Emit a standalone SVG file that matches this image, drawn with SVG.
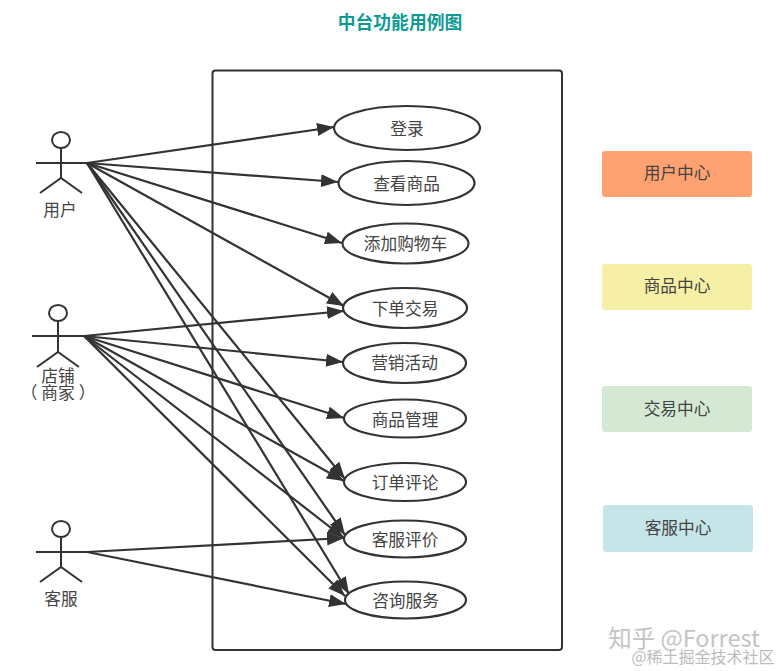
<svg xmlns="http://www.w3.org/2000/svg" width="781" height="671" viewBox="0 0 781 671">
<style>
text{font-family:"Noto Sans CJK SC","Liberation Sans",sans-serif;font-size:16.700px;fill:#444;text-anchor:middle;text-spacing-trim:space-all}
.title{font-size:17.800px;font-weight:700;fill:#0e9a94}
.uc{fill:#fff;stroke:#333;stroke-width:2.200}
.a{fill:none;stroke:#333;stroke-width:2}
.c{stroke:#333;stroke-width:2.200;fill:none;marker-end:url(#arr)}
.wm{fill:#c4c4c4;font-size:23.500px}
.wm2{fill:#bcbcbc;font-size:16px}
</style>
<defs>
<marker id="arr" markerUnits="userSpaceOnUse" markerWidth="18" markerHeight="14" refX="17" refY="6.500" orient="auto"><path d="M0 0L17 6.500L0 13Z" fill="#333"/></marker>
</defs>
<rect width="781" height="671" fill="#fff"/>
<text class="title" x="400" y="29">中台功能用例图</text>
<g id="system"><rect x="212.500" y="70.500" width="349.500" height="579.500" rx="3" fill="#fff" stroke="#333" stroke-width="2"/></g>
<g id="uc1"><ellipse class="uc" cx="407" cy="128" rx="73" ry="22"/><text x="407" y="135">登录</text></g>
<g id="uc2"><ellipse class="uc" cx="406.500" cy="183" rx="68" ry="22"/><text x="406.500" y="190">查看商品</text></g>
<g id="uc3"><ellipse class="uc" cx="405.500" cy="243.500" rx="63" ry="20"/><text x="405.500" y="250">添加购物车</text></g>
<g id="uc4"><ellipse class="uc" cx="405" cy="308" rx="62" ry="20"/><text x="405" y="315">下单交易</text></g>
<g id="uc5"><ellipse class="uc" cx="404.500" cy="363" rx="61.500" ry="20"/><text x="404.500" y="369">营销活动</text></g>
<g id="uc6"><ellipse class="uc" cx="405" cy="418.500" rx="61" ry="19"/><text x="405" y="426">商品管理</text></g>
<g id="uc7"><ellipse class="uc" cx="405" cy="482" rx="61" ry="19"/><text x="405" y="489">订单评论</text></g>
<g id="uc8"><ellipse class="uc" cx="405" cy="539" rx="61" ry="18.500"/><text x="405" y="546">客服评价</text></g>
<g id="uc9"><ellipse class="uc" cx="405.500" cy="600" rx="60.500" ry="18.500"/><text x="405.500" y="607">咨询服务</text></g>
<g id="connectors">
<path class="c" d="M87 163L334 127"/>
<path class="c" d="M87 163L338 182"/>
<path class="c" d="M87 163L342 243"/>
<path class="c" d="M87 163L344 306"/>
<path class="c" d="M87 163L345 479"/>
<path class="c" d="M87 163L345 535"/>
<path class="c" d="M87 163L349 594"/>
<path class="c" d="M84 336L344 311"/>
<path class="c" d="M84 336L343 362"/>
<path class="c" d="M84 336L344 418"/>
<path class="c" d="M84 336L344 481"/>
<path class="c" d="M84 336L344 538"/>
<path class="c" d="M84 336L345 596"/>
<path class="c" d="M87 552L344 538"/>
<path class="c" d="M87 552L346 604"/>
</g>
<g id="actor1"><ellipse class="a" cx="61" cy="140" rx="9" ry="8"/><path class="a" d="M36 163H87M61 148V178M40 193L61 178L82 193"/><text x="60" y="216">用户</text></g>
<g id="actor2"><ellipse class="a" cx="58" cy="313" rx="9" ry="8"/><path class="a" d="M32 336H84M58 321V352M37 367L58 352L79 367"/><text x="58" y="382">店铺</text><text x="58" y="399">（<tspan dx="4">商家</tspan><tspan dx="4">）</tspan></text></g>
<g id="actor3"><ellipse class="a" cx="61" cy="529" rx="9" ry="8"/><path class="a" d="M36 552H87M61 537V567M40 582L61 567L82 582"/><text x="61" y="605">客服</text></g>
<g id="c1"><rect x="602" y="151" width="150" height="46" rx="3" fill="#ffa271"/><text x="677" y="179">用户中心</text></g>
<g id="c2"><rect x="602" y="264" width="150" height="46" rx="3" fill="#f6efa6"/><text x="677" y="292">商品中心</text></g>
<g id="c3"><rect x="602" y="386" width="150" height="46" rx="3" fill="#d5e8d4"/><text x="677" y="415">交易中心</text></g>
<g id="c4"><rect x="603" y="505" width="150" height="47" rx="3" fill="#c6e5e8"/><text x="678" y="534">客服中心</text></g>
<text class="wm" x="684" y="647">知乎 @Forrest</text>
<text class="wm2" x="703" y="663">@稀土掘金技术社区</text>
</svg>
